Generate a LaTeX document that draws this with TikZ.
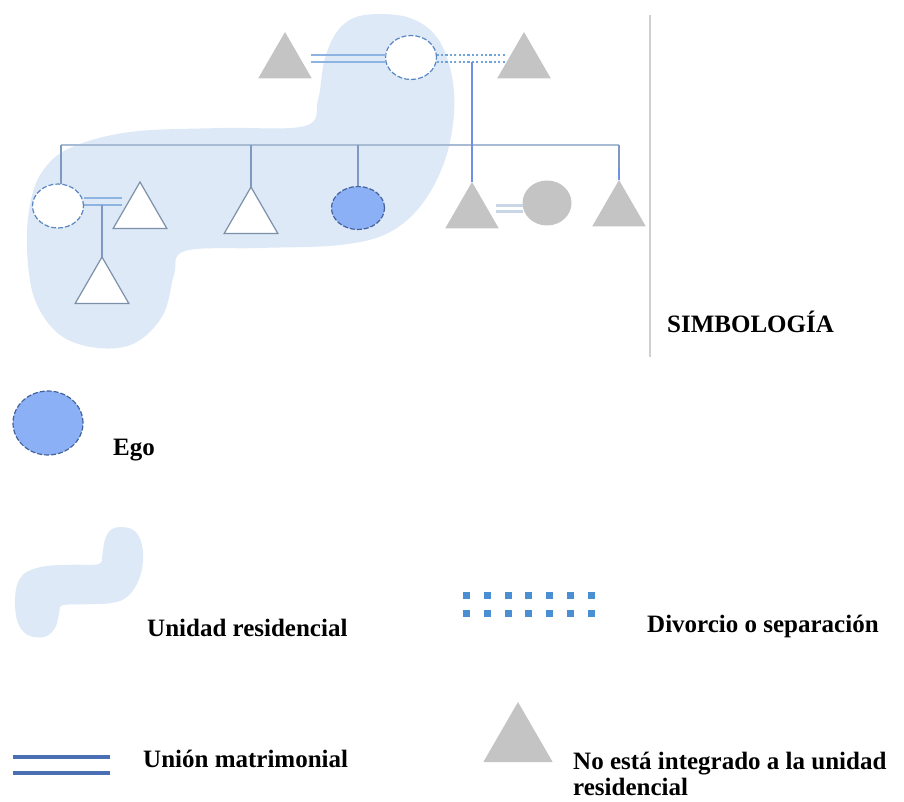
\documentclass[tikz,border=0pt]{standalone}
\usepackage{fontspec}
\setmainfont{Liberation Serif}
\usetikzlibrary{shapes.geometric}
\definecolor{blobc}{HTML}{DDE9F6}
\definecolor{famline}{HTML}{A8BBD4}
\definecolor{dropline}{HTML}{7F9AC0}
\definecolor{trioutline}{HTML}{7C90AA}
\definecolor{greyshape}{HTML}{C4C4C4}
\definecolor{marrblue}{HTML}{8DB3E0}
\definecolor{circblue}{HTML}{5A86C4}
\definecolor{egofill}{HTML}{8BB0F6}
\definecolor{egoline}{HTML}{45639A}
\definecolor{divblue}{HTML}{4A8FD4}
\definecolor{legmarr}{HTML}{4A6FB5}
\definecolor{sepgrey}{HTML}{D0D0D0}
\definecolor{greymarr}{HTML}{C9D6E6}
\begin{document}
\begin{tikzpicture}[x=1pt,y=-1pt,
  wtri/.style={regular polygon, regular polygon sides=3, minimum size=62pt, inner sep=0pt, outer sep=0pt, draw=trioutline, line width=1.2pt, fill=white},
  gtri/.style={regular polygon, regular polygon sides=3, minimum size=62pt, inner sep=0pt, outer sep=0pt, fill=greyshape},
  wcirc/.style={ellipse, minimum width=51pt, minimum height=44pt, inner sep=0pt, outer sep=0pt, fill=white, draw=circblue, line width=1.2pt, dash pattern=on 5pt off 2pt},
  egocirc/.style={ellipse, minimum width=53pt, minimum height=43pt, inner sep=0pt, outer sep=0pt, fill=egofill, draw=egoline, line width=1.2pt, dash pattern=on 5pt off 2pt},
  gcirc/.style={ellipse, minimum width=49pt, minimum height=45pt, inner sep=0pt, outer sep=0pt, fill=greyshape},
  sibline/.style={draw=famline, line width=2pt},
  dropln/.style={draw=dropline, line width=1.4pt},
  vline/.style={draw=marrblue!80!blue, line width=1.8pt},
  marr/.style={draw=marrblue, line width=2.6pt},
  gmarr/.style={draw=greymarr, line width=3pt},
  divln/.style={draw=divblue!80!white, line width=2.2pt, dash pattern=on 2.2pt off 2.2pt},
  blobfill/.style={fill=blobc, draw=none},
  lbl/.style={anchor=base west, inner sep=0pt, font=\fontsize{25}{27}\selectfont\bfseries}
]
\useasboundingbox (0,0) rectangle (904,802);
\fill[white] (0,0) rectangle (904,802);

% residential unit blob
\fill[blobfill] plot[smooth cycle, tension=0.6] coordinates {
 (365,15) (410,18) (440,42) (454,92) (448,150) (425,200) (390,232) (340,245)
 (260,248) (185,251) (174,275) (163,315) (135,343) (98,348) (60,335) (35,300)
 (27,250) (30,205) (42,172) (70,148) (130,132) (220,128) (305,126) (318,100)
 (325,58) (340,28)};

% separator
\draw[draw=sepgrey, line width=1.2pt] (650,15) -- (650,357);

% parents generation
\node[gtri] (tA) at (285,63) {};
\node[wcirc] (cTop) at (411,57.5) {};
\node[gtri] (tB) at (524,63) {};

\draw[marr] ([yshift=2.5pt,xshift=8pt]cTop.west -| tA.east) -- ([yshift=2.5pt]cTop.west);
\draw[marr] ([yshift=-4.5pt,xshift=8pt]cTop.west -| tA.east) -- ([yshift=-4.5pt]cTop.west);
\draw[divln] ([yshift=2.5pt]cTop.east) -- ([yshift=2.5pt]cTop.east -| tB.west);
\draw[divln] ([yshift=-4.5pt]cTop.east) -- ([yshift=-4.5pt]cTop.east -| tB.west);
\coordinate (divLo) at ([yshift=-4.5pt]cTop.east);

% children generation
\node[wcirc] (cL) at (58,206) {};
\node[wtri] (tL) at (140,213) {};
\node[wtri] (tC) at (102,288) {};
\node[wtri] (tM) at (251,218) {};
\node[egocirc] (ego) at (358,208) {};
\node[gtri] (tG1) at (472,213) {};
\node[gcirc] (cG) at (547,203) {};
\node[gtri] (tG2) at (619,211) {};

\coordinate (sibL) at (61,145);
\coordinate (sibR) at (619,145);
\draw[sibline] (sibL) -- (sibR);
\draw[dropln] ([xshift=3pt]cL.north) -- ([xshift=3pt]cL.north |- sibL);
\draw[dropln] (tM.north) -- (tM.north |- sibL);
\draw[dropln] (ego.north) -- (ego.north |- sibL);
\draw[dropln] (tG2.north) -- (tG2.north |- sibL);
\draw[vline] ([yshift=1pt]tG2.north) -- ([yshift=12pt]tG2.north);
\draw[vline] (tG1.north) -- (tG1.north |- divLo);

% marriage left
\draw[marr] ([yshift=8pt]cL.east) -- ([yshift=8pt]cL.east -| tL.west);
\draw[marr] ([yshift=1pt]cL.east) -- ([yshift=1pt]cL.east -| tL.west);
\coordinate (mL) at ([yshift=1pt]cL.east);
\draw[dropln] (tC.north) -- (tC.north |- mL);

% grey couple
\draw[gmarr] ([yshift=-3pt,xshift=6pt]cG.west -| tG1.east) -- ([yshift=-3pt]cG.west);
\draw[gmarr] ([yshift=-9pt,xshift=6pt]cG.west -| tG1.east) -- ([yshift=-9pt]cG.west);

% legend
\node[lbl] (simb) at (667,332) {SIMBOLOGÍA};

\node[egocirc, minimum width=70pt, minimum height=64pt] (legEgo) at (48,423) {};
\node[lbl] (tEgo) at (113,455) {Ego};

\begin{scope}[shift={(6.9,522.5)}, xscale=0.30, yscale=0.33]
\fill[blobfill] plot[smooth cycle, tension=0.6] coordinates {
 (365,15) (410,18) (440,42) (454,92) (448,150) (425,200) (390,232) (340,245)
 (260,248) (185,251) (174,275) (163,315) (135,343) (98,348) (60,335) (35,300)
 (27,250) (30,205) (42,172) (70,148) (130,132) (220,128) (305,126) (318,100)
 (325,58) (340,28)};
\end{scope}
\node[lbl] (tUnidad) at (147,636) {Unidad residencial};

\foreach \r in {595,613}{
  \foreach \i in {0,...,6}{
    \fill[divblue] ({463+\i*20.8},{\r-3.5}) rectangle ++(7,7);
  }
}
\node[lbl] (tDiv) at (647,632) {Divorcio o separación};

\coordinate (lm1) at (13,757);
\coordinate (lm2) at (110,757);
\coordinate (lm3) at (13,773);
\coordinate (lm4) at (110,773);
\draw[draw=legmarr, line width=4pt] (lm1) -- (lm2);
\draw[draw=legmarr, line width=4pt] (lm3) -- (lm4);
\node[lbl] (tUnion) at (143,767) {Unión matrimonial};

\node[gtri, minimum size=80pt] (legTri) at (518,742) {};
\node[lbl] (tNo1) at (573,769) {No está integrado a la unidad};
\node[lbl] (tNo2) at (573,795) {residencial};
\end{tikzpicture}
\end{document}
